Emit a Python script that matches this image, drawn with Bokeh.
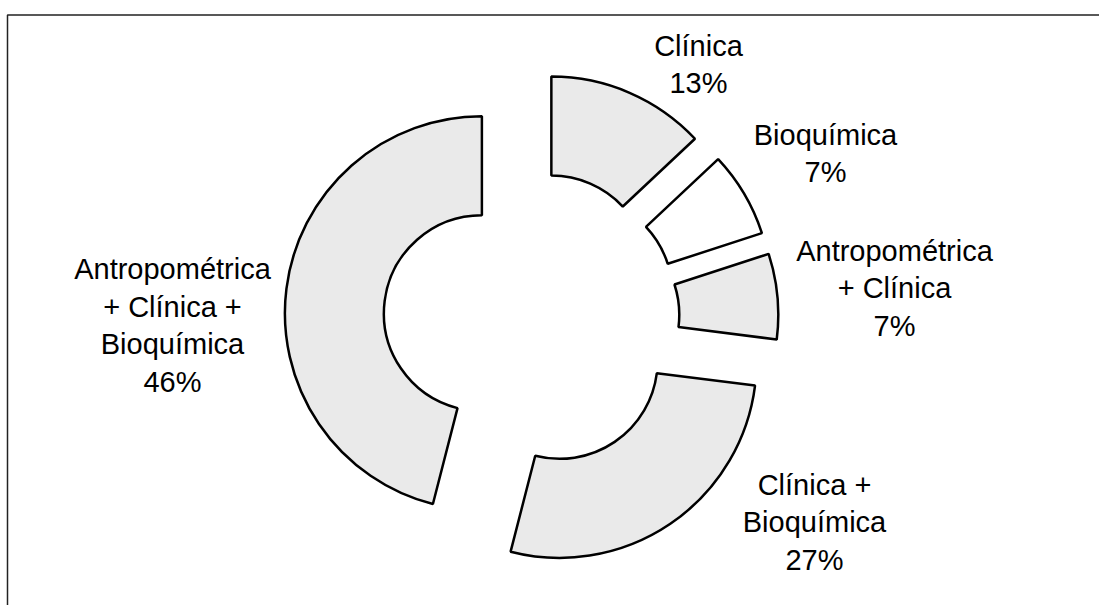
import math
from bokeh.plotting import figure
from bokeh.models import Range1d, ColumnDataSource, BoxAnnotation
from bokeh.core.properties import value
from bokeh.embed import file_html
from bokeh.resources import INLINE

# ---- data ----
categories = ["Clínica", "Bioquímica", "Antropométrica\n+ Clínica",
              "Clínica +\nBioquímica", "Antropométrica\n+ Clínica +\nBioquímica"]
percents = [13, 7, 7, 27, 46]

# ---- layout / style (not data) ----
W, H = 1099, 605
CX, CY = 531, 286          # donut centre (pixel-like data units)
R_OUT, R_IN = 197, 98
EXPLODE = 50
fills = ["#eaeaea", "#ffffff", "#eaeaea", "#eaeaea", "#eaeaea"]
label_pos = [(698, 541), (825, 452), (894, 317), (814, 83), (172, 280)]

total = float(sum(percents))
starts, ends, xs, ys = [], [], [], []
cum = 0.0
for v in percents:
    a0 = 90 - cum / total * 360
    cum += v
    a1 = 90 - cum / total * 360
    mid = math.radians((a0 + a1) / 2)
    starts.append(math.radians(a0))
    ends.append(math.radians(a1))
    xs.append(CX + EXPLODE * math.cos(mid))
    ys.append(CY + EXPLODE * math.sin(mid))

src = ColumnDataSource(dict(x=xs, y=ys, start=starts, end=ends, fill=fills))

p = figure(width=W, height=H, output_backend="svg", toolbar_location=None,
           x_range=Range1d(0, W), y_range=Range1d(0, H), min_border=0,
           background_fill_color="white", border_fill_color="white")
p.axis.visible = False
p.grid.visible = False
p.outline_line_color = None

p.annular_wedge(x="x", y="y", inner_radius=R_IN, outer_radius=R_OUT,
                start_angle="start", end_angle="end", direction="clock",
                fill_color="fill", line_color="black", line_width=2.5, source=src)

labels = [f"{c}\n{v}%" for c, v in zip(categories, percents)]
lsrc = ColumnDataSource(dict(x=[q[0] for q in label_pos], y=[q[1] for q in label_pos], t=labels))
p.text(x="x", y="y", text="t", source=lsrc, text_align="center", text_baseline="middle",
       text_font=value("Liberation Sans"), text_font_size="29px", text_color="black",
       text_line_height=1.17)

# chart-area frame: left and top edges visible, the rest runs off the picture
p.add_layout(BoxAnnotation(left=7, right=W + 30, top=H - 14.5, bottom=-30,
                           fill_color=None, fill_alpha=0, line_color="#222222",
                           line_alpha=1.0, line_width=1.5, level="underlay"))

open("out.html", "w").write(file_html(p, INLINE))
